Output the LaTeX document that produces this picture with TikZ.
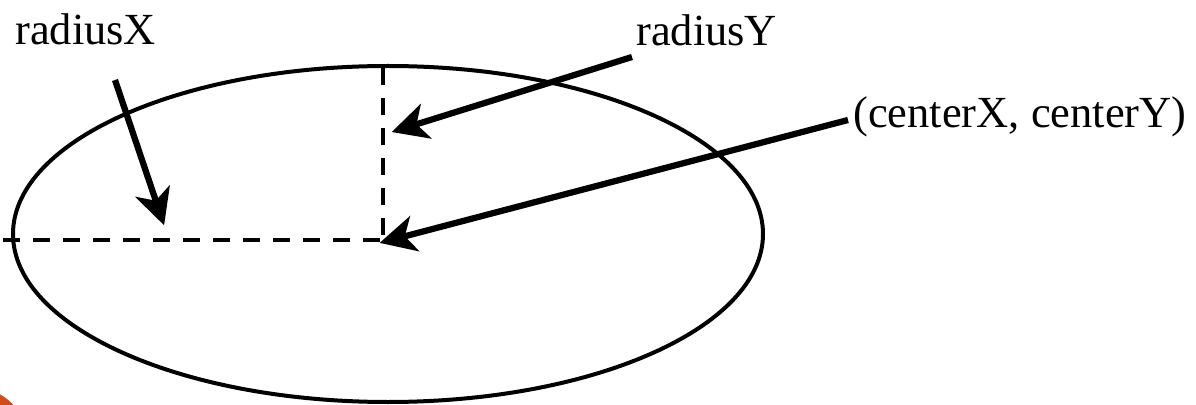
\documentclass[tikz,border=0pt]{standalone}
\usepackage{fontspec}
\setmainfont{Liberation Serif}
\usetikzlibrary{arrows.meta}
\definecolor{blob}{RGB}{208,76,26}
\tikzset{
  lbl/.style={anchor=base west, inner sep=0pt, font=\fontsize{25.3}{30}\selectfont},
  pointer/.style={line width=0.125cm, -{Stealth[length=0.72cm,width=0.72cm,inset=0.2cm]}},
  guide/.style={line width=0.08cm, dash pattern=on 0.34cm off 0.26cm},
  outline/.style={line width=0.08cm}
}
\begin{document}
\begin{tikzpicture}[x=0.02cm,y=-0.02cm]
\useasboundingbox (0,0) rectangle (1196,405);
\begin{scope}
\clip (0,0) rectangle (1196,405);
\fill[blob] (-25,440) circle[radius=52];
\end{scope}
\draw[outline] (388,234) ellipse[x radius=375, y radius=168];
\coordinate (c) at (383,240);
\coordinate (hl) at (3,240);
\coordinate (vt) at (383,68);
\draw[guide] (hl) -- (c);
\draw[guide] (vt) -- (c);
\node[lbl] (rx) at (15,45) {radiusX};
\node[lbl] (ry) at (636,46) {radiusY};
\node[lbl] (cxy) at (853,128) {(centerX, centerY)};
\coordinate (rxs) at (115,80);
\coordinate (rxt) at (163,222);
\coordinate (rys) at (632,57);
\coordinate (ryt) at (395,131);
\coordinate (cs) at (848,120);
\coordinate (ct) at (383,242);
\draw[pointer, shorten >=-2pt] (rxs) -- (rxt);
\draw[pointer, shorten >=-2pt] (rys) -- (ryt);
\draw[pointer, shorten >=-2pt] (cs) -- (ct);
\end{tikzpicture}
\end{document}
